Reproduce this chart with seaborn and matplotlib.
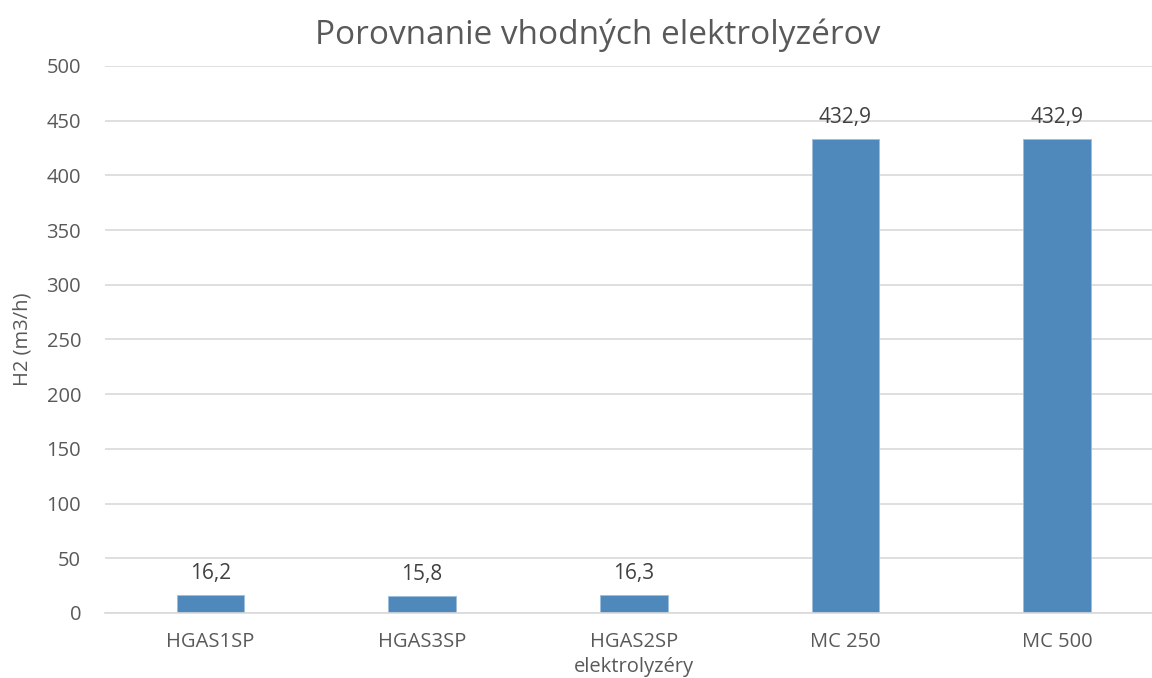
import matplotlib
matplotlib.use("Agg")
import matplotlib.pyplot as plt
import seaborn as sns
import pandas as pd

categories = ["HGAS1SP", "HGAS3SP", "HGAS2SP", "MC 250", "MC 500"]
values = [16.2, 15.8, 16.3, 432.9, 432.9]
labels = ["16,2", "15,8", "16,3", "432,9", "432,9"]

sns.set_theme(style="white")
plt.rcParams['font.family'] = ['Open Sans', 'DejaVu Sans']

df = pd.DataFrame({"cat": categories, "val": values})

fig = plt.figure(figsize=(11.52, 6.78), dpi=100)
ax = fig.add_axes([0.0909, 0.0959, 0.9185, 0.8068])
sns.barplot(data=df, x="cat", y="val", color="#4F88BB", width=0.32, ax=ax,
            saturation=1, edgecolor="#9DBEDD", linewidth=0.6)

ax.set_ylim(0, 500)
ax.set_yticks(range(0, 501, 50))
ax.set_xlim(-0.5, 4.5)
ax.yaxis.grid(True, color="#D9D9D9", linewidth=1.2)
ax.set_axisbelow(True)
for s in ["top", "right", "left"]:
    ax.spines[s].set_visible(False)
ax.spines["bottom"].set_color("#D9D9D9")
ax.spines["bottom"].set_linewidth(1.2)
ax.tick_params(axis="both", length=0, labelsize=14.5, colors="#595959")
ax.tick_params(axis="y", pad=17)
ax.tick_params(axis="x", pad=14)

for i, (v, t) in enumerate(zip(values, labels)):
    ax.annotate(t, (i, v), xytext=(0, 8), textcoords="offset points",
                ha="center", va="bottom", fontsize=15, color="#404040")

ax.set_xlabel("elektrolyzéry", fontsize=14.5, color="#595959", labelpad=3)
ax.set_ylabel("H2 (m3/h)", fontsize=14.5, color="#595959", labelpad=10)
fig.text(0.519, 0.948, "Porovnanie vhodných elektrolyzérov", ha="center", va="center",
         fontsize=24, color="#595959")

fig.savefig("out.png", dpi=100, facecolor="white")
